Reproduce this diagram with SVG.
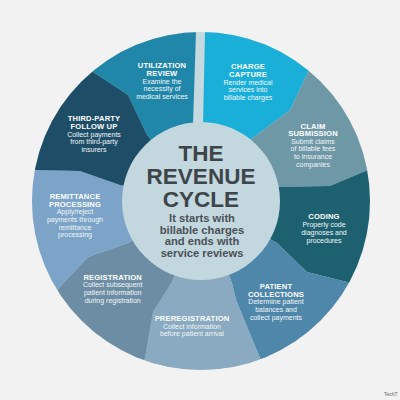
<svg xmlns="http://www.w3.org/2000/svg" width="400" height="400" viewBox="0 0 400 400">
<defs>
<clipPath id="ring"><circle cx="201" cy="201" r="169"/></clipPath>
</defs>
<style>
text{font-family:"Liberation Sans",Arial,sans-serif;text-anchor:middle;}
.t{font-weight:bold;font-size:7.6px;fill:#ffffff;letter-spacing:0.15px;}
.d{font-size:7px;fill:#f2f6f8;}
.h{font-weight:bold;font-size:22.5px;fill:#3e4549;}
.s{font-weight:bold;font-size:11.2px;fill:#4a5156;}
</style>
<rect width="400" height="400" fill="#f2f2f2"/>
<circle cx="201" cy="201" r="169" fill="#c6d9df"/>
<g clip-path="url(#ring)">
<g id="utilization-review">
<polygon points="201,201 147,135 128,95 93,72 53,25 112,-43 196,-10 196,32 193,125" fill="#2087aa"/>
</g>
<g id="charge-capture">
<polygon points="201,201 203,125 205,32 205,-10 290,-43 348,24 308,72 290,110 250,140" fill="#1aafd8"/>
</g>
<g id="claim-submission">
<polygon points="201,201 250,140 290,110 308,72 348,24 425,69 427,159 368,170 330,186 279,187" fill="#6f98a6"/>
</g>
<g id="coding">
<polygon points="201,201 279,187 330,186 368,170 427,159 458,243 402,313 347,282 307,272 277,243" fill="#1d6170"/>
</g>
<g id="patient-collections">
<polygon points="201,201 277,243 307,272 347,282 402,313 371,398 282,416 260,358 236,300 232,283" fill="#4f87aa"/>
</g>
<g id="preregistration">
<polygon points="201,201 232,283 236,300 260,358 282,416 203,461 124,418 145,358 153,312 172,282" fill="#89aac0"/>
</g>
<g id="registration">
<polygon points="201,201 172,282 153,312 145,358 124,418 38,403 6,322 56,291 88,257 128,243" fill="#6c8da4"/>
</g>
<g id="remittance-processing">
<polygon points="201,201 128,243 88,257 56,291 6,322 -55,249 -25,159 35,170 80,171 120,185" fill="#7ba4c8"/>
</g>
<g id="third-party-follow-up">
<polygon points="201,201 120,185 80,171 35,170 -25,159 -24,70 53,25 93,72 128,95 147,135" fill="#1e4e67"/>
</g>
</g>
<g id="labels">
<text class="t" x="162" y="68">UTILIZATION</text>
<text class="t" x="162" y="76">REVIEW</text>
<text class="d" x="162" y="83.7">Examine the</text>
<text class="d" x="162" y="91.4">necessity of</text>
<text class="d" x="162" y="99.2">medical services</text>

<text class="t" x="248" y="69">CHARGE</text>
<text class="t" x="248" y="77">CAPTURE</text>
<text class="d" x="248" y="84.5">Render medical</text>
<text class="d" x="248" y="92.1">services into</text>
<text class="d" x="248" y="99.7">billable charges</text>

<text class="t" x="313" y="128.5">CLAIM</text>
<text class="t" x="313" y="136.3">SUBMISSION</text>
<text class="d" x="313" y="143.8">Submit claims</text>
<text class="d" x="313" y="151.4">of billable fees</text>
<text class="d" x="313" y="159">to insurance</text>
<text class="d" x="313" y="166.7">companies</text>

<text class="t" x="324" y="219">CODING</text>
<text class="d" x="324" y="227">Properly code</text>
<text class="d" x="324" y="235">diagnoses and</text>
<text class="d" x="324" y="242.7">procedures</text>

<text class="t" x="276" y="289">PATIENT</text>
<text class="t" x="276" y="296.8">COLLECTIONS</text>
<text class="d" x="276" y="304.4">Determine patient</text>
<text class="d" x="276" y="312.1">balances and</text>
<text class="d" x="276" y="320">collect payments</text>

<text class="t" x="192" y="321">PREREGISTRATION</text>
<text class="d" x="192" y="328.7">Collect information</text>
<text class="d" x="192" y="336.3">before patient arrival</text>

<text class="t" x="112.7" y="279.7">REGISTRATION</text>
<text class="d" x="112.7" y="287.4">Collect subsequent</text>
<text class="d" x="112.7" y="295.2">patient information</text>
<text class="d" x="112.7" y="303">during registration</text>

<text class="t" x="75" y="199">REMITTANCE</text>
<text class="t" x="75" y="206.7">PROCESSING</text>
<text class="d" x="75" y="214.3">Apply/reject</text>
<text class="d" x="75" y="222">payments through</text>
<text class="d" x="75" y="229.7">remittance</text>
<text class="d" x="75" y="237.3">processing</text>

<text class="t" x="94" y="120.7">THIRD-PARTY</text>
<text class="t" x="94" y="128.6">FOLLOW UP</text>
<text class="d" x="94" y="136.6">Collect payments</text>
<text class="d" x="94" y="144.3">from third-party</text>
<text class="d" x="94" y="152">insurers</text>
</g>
<g id="center">
<circle cx="201" cy="201" r="79" fill="#c3d7de"/>
<text class="h" x="201" y="161">THE</text>
<text class="h" x="201" y="184">REVENUE</text>
<text class="h" x="201" y="207">CYCLE</text>
<text class="s" x="202" y="222">It starts with</text>
<text class="s" x="202" y="233.5">billable charges</text>
<text class="s" x="202" y="245">and ends with</text>
<text class="s" x="202" y="256.5">service reviews</text>
</g>
<text x="384" y="396" style="font-size:5px;fill:#666;text-anchor:start">TechT</text>
</svg>
